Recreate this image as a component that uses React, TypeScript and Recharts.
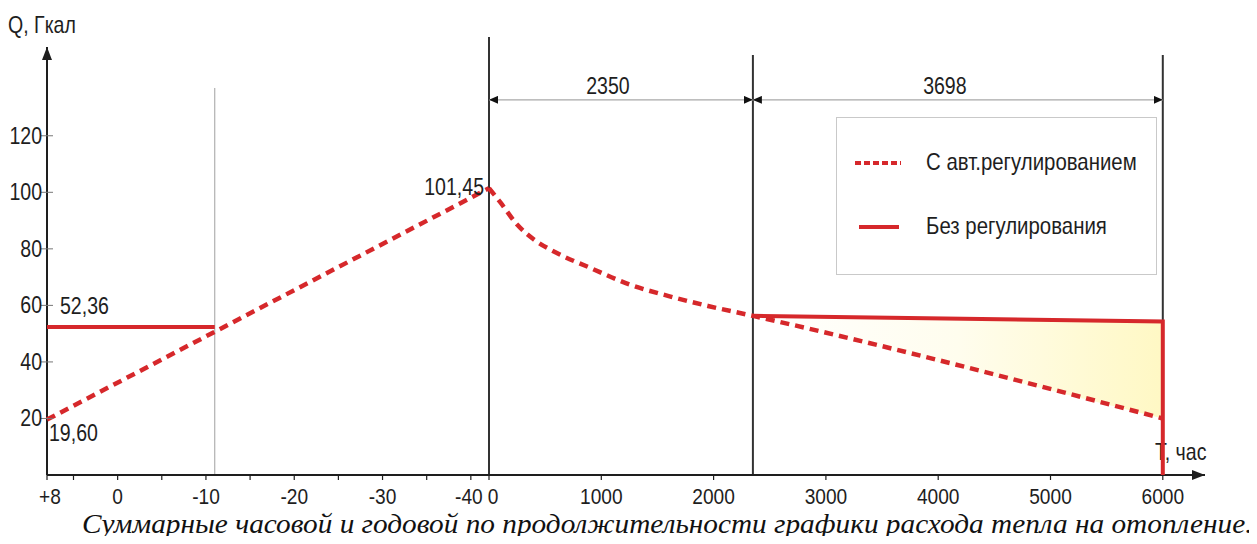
import {
  ComposedChart,
  Line,
  Area,
  XAxis,
  YAxis,
  ReferenceLine,
  LabelList,
} from "recharts";

// tick labels
const tempTicks = [8, 0, -10, -20, -30, -40];
const tempMinorTicks = [5, -5, -15, -25, -35];
const hourTicks = [0, 1000, 2000, 3000, 4000, 5000, 6000];
const qTicks = [20, 40, 60, 80, 100, 120];

// "Без регулирования" (no regulation)
const noRegTemp = [8, -11];
const noRegTempQ = [52.36, 52.36];
const noRegHours = [2350, 6000, 6000];
const noRegHoursQ = [56.3, 54.3, 0];

// "С авт.регулированием" (automatic regulation)
const autoTempQ = [19.6, 101.45]; // at +8 and at the design point (0 h)
const autoHours = [0, 100, 250, 400, 600, 900, 1250, 1600, 1950, 2350, 6000];
const autoHoursQ = [101.45, 96.5, 88.6, 83.3, 78.6, 73.3, 67.4, 63.3, 59.8, 56.3, 20.0];

const periods = [2350, 3698];
const breakTemp = -11;

const FONT = "'Liberation Sans', Arial, sans-serif";
const NARROW = 0.85; // reference uses a condensed face
const RED = "#d6282b";
const INK = "#1e1e1e";

const W = 1257;
const H = 544;
const X_MAX = 1158;
const Y_MAX = 156;

// broken x axis: temperature part on the left, hours on the right
const DEG = 8.83;
const HOUR = 0.1123;
const H0 = 442;
const tempToX = (t: number) => (8 - t) * DEG;
const hourToX = (h: number) => H0 + h * HOUR;

const xTicks = [
  ...tempTicks.map((t) => ({
    pos: tempToX(t),
    label: t > 0 ? `+${t}` : `${t}`,
    dx: t > 0 ? 3 : t === -40 ? -2 : 0,
  })),
  ...tempMinorTicks.map((t) => ({ pos: tempToX(t), label: "", dx: 0 })),
  ...hourTicks.map((h) => ({ pos: hourToX(h), label: `${h}`, dx: h === 0 ? 4 : 0 })),
];
const tickAt = (v: number) => xTicks.find((k) => Math.abs(k.pos - v) < 0.01);

const fmt = (v: number) => v.toFixed(2).replace(".", ",");

const solidLeft = noRegTemp.map((t, i) => ({ x: tempToX(t), q: noRegTempQ[i] }));
const solidRight = noRegHours.map((h, i) => ({ x: hourToX(h), q: noRegHoursQ[i] }));
const dashedLeft = [
  { x: tempToX(8), q: autoTempQ[0] },
  { x: hourToX(0), q: autoTempQ[1] },
];
const dashedRight = autoHours.map((h, i) => ({ x: hourToX(h), q: autoHoursQ[i] }));
const lossBand = [
  { x: hourToX(2350), band: [autoHoursQ[9], noRegHoursQ[0]] },
  { x: hourToX(6000), band: [autoHoursQ[10], noRegHoursQ[1]] },
];

// condensed-looking text
const NText = ({ x, y, anchor = "start", size = 23, children }: any) => (
  <text
    transform={`translate(${x},${y}) scale(${NARROW},1)`}
    textAnchor={anchor}
    fontFamily={FONT}
    fontSize={size}
    fill={INK}
  >
    {children}
  </text>
);

const XTick = ({ x, y, payload }: any) => {
  const t = tickAt(payload.value);
  return (
    <g>
      <line x1={x} y1={y} x2={x} y2={y + 5} stroke={INK} strokeWidth={1.2} />
      {t && t.label && (
        <NText x={x + t.dx} y={y + 28.5} anchor="middle" size={22.5}>
          {t.label}
        </NText>
      )}
    </g>
  );
};

const YTick = ({ x, y, payload }: any) => (
  <g>
    <line x1={x - 6} y1={y} x2={x + 6} y2={y} stroke="#777" strokeWidth={1} />
    <NText x={x - 5} y={y + 8} anchor="end">
      {payload.value}
    </NText>
  </g>
);

const yAxisShape = (p: any) => (
  <g>
    <line x1={p.x1} y1={p.y1} x2={p.x2} y2={p.y2} stroke={INK} strokeWidth={2} markerEnd="url(#axisArrow)" />
    <NText x={p.x1 - 39} y={p.y2 - 14}>
      Q, Гкал
    </NText>
  </g>
);

const xAxisShape = (p: any) => (
  <g>
    <line x1={p.x1} y1={p.y1} x2={p.x2} y2={p.y2} stroke={INK} strokeWidth={2} markerEnd="url(#axisArrow)" />
    <NText x={p.x2 - 50} y={p.y2 - 15}>
      T, час
    </NText>
  </g>
);

const dimShape = (label: string) => (p: any) => (
  <g>
    <line
      x1={p.x1}
      y1={p.y1}
      x2={p.x2}
      y2={p.y2}
      stroke="#a8a8a8"
      strokeWidth={1.2}
      markerStart="url(#dimArrow)"
      markerEnd="url(#dimArrow)"
    />
    <NText x={(p.x1 + p.x2) / 2 - 13} y={p.y1 - 6} anchor="middle">
      {label}
    </NText>
  </g>
);

const pointLabel =
  (index: number, dx: number, dy: number, anchor: string) => (props: any) => {
    if (props.index !== index) return null;
    return (
      <NText x={props.x + dx} y={props.y + dy} anchor={anchor}>
        {fmt(props.value)}
      </NText>
    );
  };

const LegendBox = () => (
  <div
    style={{
      position: "absolute",
      left: 836,
      top: 117,
      width: 319,
      height: 156,
      border: "1px solid #c9c9c9",
      background: "#fff",
      fontFamily: FONT,
      fontSize: 24,
      color: INK,
    }}
  >
    {[
      { name: "С авт.регулированием", dash: "6 3", top: 45 },
      { name: "Без регулирования", dash: undefined, top: 109 },
    ].map((item) => (
      <div key={item.name}>
        <svg
          width={46}
          height={8}
          style={{ position: "absolute", left: 18, top: item.top - 4 }}
        >
          <line
            x1={item.dash ? 0 : 4}
            y1={4}
            x2={item.dash ? 46 : 44}
            y2={4}
            stroke={RED}
            strokeWidth={4}
            strokeDasharray={item.dash}
          />
        </svg>
        <span
          style={{
            position: "absolute",
            left: 89,
            top: item.top - 15,
            lineHeight: "28px",
            whiteSpace: "nowrap",
            transform: "scaleX(0.85)",
            transformOrigin: "left center",
          }}
        >
          {item.name}
        </span>
      </div>
    ))}
  </div>
);

const App = () => {
  return (
    <div style={{ margin: -8, width: W, height: H, position: "relative", background: "#fff" }}>
      <ComposedChart width={W} height={H} margin={{ top: 34, right: 52, left: 7, bottom: 39 }}>
        <defs>
          <marker
            id="axisArrow"
            viewBox="0 0 13 10"
            refX="13"
            refY="5"
            markerWidth="13"
            markerHeight="10"
            markerUnits="userSpaceOnUse"
            orient="auto"
          >
            <path d="M0,0 L13,5 L0,10 z" fill={INK} />
          </marker>
          <marker
            id="dimArrow"
            viewBox="0 0 9 8"
            refX="9"
            refY="4"
            markerWidth="9"
            markerHeight="8"
            markerUnits="userSpaceOnUse"
            orient="auto-start-reverse"
          >
            <path d="M0,0 L9,4 L0,8 z" fill="#111" />
          </marker>
          <linearGradient id="lossFill" x1="0" y1="0" x2="1" y2="0">
            <stop offset="0%" stopColor="#ffffff" />
            <stop offset="50%" stopColor="#fffdee" />
            <stop offset="100%" stopColor="#fff8c4" />
          </linearGradient>
        </defs>

        <XAxis
          dataKey="x"
          type="number"
          domain={[0, X_MAX]}
          ticks={xTicks.map((t) => t.pos)}
          interval={0}
          axisLine={false}
          tickLine={false}
          tickSize={0}
          tickMargin={0}
          height={30}
          tick={XTick}
        />
        <YAxis
          type="number"
          domain={[0, Y_MAX]}
          ticks={qTicks}
          interval={0}
          axisLine={false}
          tickLine={false}
          tickSize={0}
          tickMargin={0}
          width={40}
          tick={YTick}
        />

        <Area
          data={lossBand}
          dataKey="band"
          type="linear"
          stroke="none"
          fill="url(#lossFill)"
          fillOpacity={1}
          isAnimationActive={false}
        />

        <ReferenceLine
          segment={[{ x: tempToX(breakTemp), y: 0 }, { x: tempToX(breakTemp), y: 136.9 }]}
          stroke="#a0a0a0"
          strokeWidth={1}
          ifOverflow="visible"
        />
        <ReferenceLine
          segment={[{ x: hourToX(0), y: 0 }, { x: hourToX(0), y: 154.9 }]}
          stroke="#333"
          strokeWidth={2}
          ifOverflow="visible"
        />
        <ReferenceLine
          segment={[{ x: hourToX(periods[0]), y: 0 }, { x: hourToX(periods[0]), y: 148.6 }]}
          stroke="#333"
          strokeWidth={2}
          ifOverflow="visible"
        />
        <ReferenceLine
          segment={[{ x: hourToX(6000), y: 0 }, { x: hourToX(6000), y: 148.6 }]}
          stroke="#333"
          strokeWidth={2}
          ifOverflow="visible"
        />
        <ReferenceLine
          segment={[{ x: hourToX(0), y: 132.7 }, { x: hourToX(periods[0]), y: 132.7 }]}
          shape={dimShape(`${periods[0]}`)}
          ifOverflow="visible"
        />
        <ReferenceLine
          segment={[{ x: hourToX(periods[0]), y: 132.7 }, { x: hourToX(6000), y: 132.7 }]}
          shape={dimShape(`${periods[1]}`)}
          ifOverflow="visible"
        />
        <ReferenceLine
          segment={[{ x: 0, y: 0 }, { x: 0, y: 151.4 }]}
          shape={yAxisShape}
          ifOverflow="visible"
        />
        <ReferenceLine
          segment={[{ x: 0, y: 0 }, { x: X_MAX, y: 0 }]}
          shape={xAxisShape}
          ifOverflow="visible"
        />

        <Line
          data={dashedLeft}
          dataKey="q"
          type="linear"
          stroke={RED}
          strokeWidth={4.5}
          strokeDasharray="9 6"
          dot={false}
          isAnimationActive={false}
        >
          <LabelList dataKey="q" content={pointLabel(0, 2, 21, "start")} />
          <LabelList dataKey="q" content={pointLabel(1, -5, 7, "end")} />
        </Line>
        <Line
          data={dashedRight}
          dataKey="q"
          type="monotone"
          stroke={RED}
          strokeWidth={4.5}
          strokeDasharray="9 6"
          dot={false}
          isAnimationActive={false}
        />
        <Line
          data={solidLeft}
          dataKey="q"
          type="linear"
          stroke={RED}
          strokeWidth={4}
          dot={false}
          isAnimationActive={false}
        >
          <LabelList dataKey="q" content={pointLabel(0, 13, -13, "start")} />
        </Line>
        <Line
          data={solidRight}
          dataKey="q"
          type="linear"
          stroke={RED}
          strokeWidth={4}
          dot={false}
          isAnimationActive={false}
        />
      </ComposedChart>

      <LegendBox />

      <div
        style={{
          position: "absolute",
          left: 82,
          top: 514,
          height: 20,
          whiteSpace: "nowrap",
          fontFamily: "'Liberation Serif', 'Times New Roman', serif",
          fontStyle: "italic",
          fontSize: 28,
          lineHeight: "20px",
          color: "#111",
          transform: "scaleX(1.046)",
          transformOrigin: "left center",
        }}
      >
        Суммарные часовой и годовой по продолжительности графики расхода тепла на отопление.
      </div>
    </div>
  );
};

export default App;
